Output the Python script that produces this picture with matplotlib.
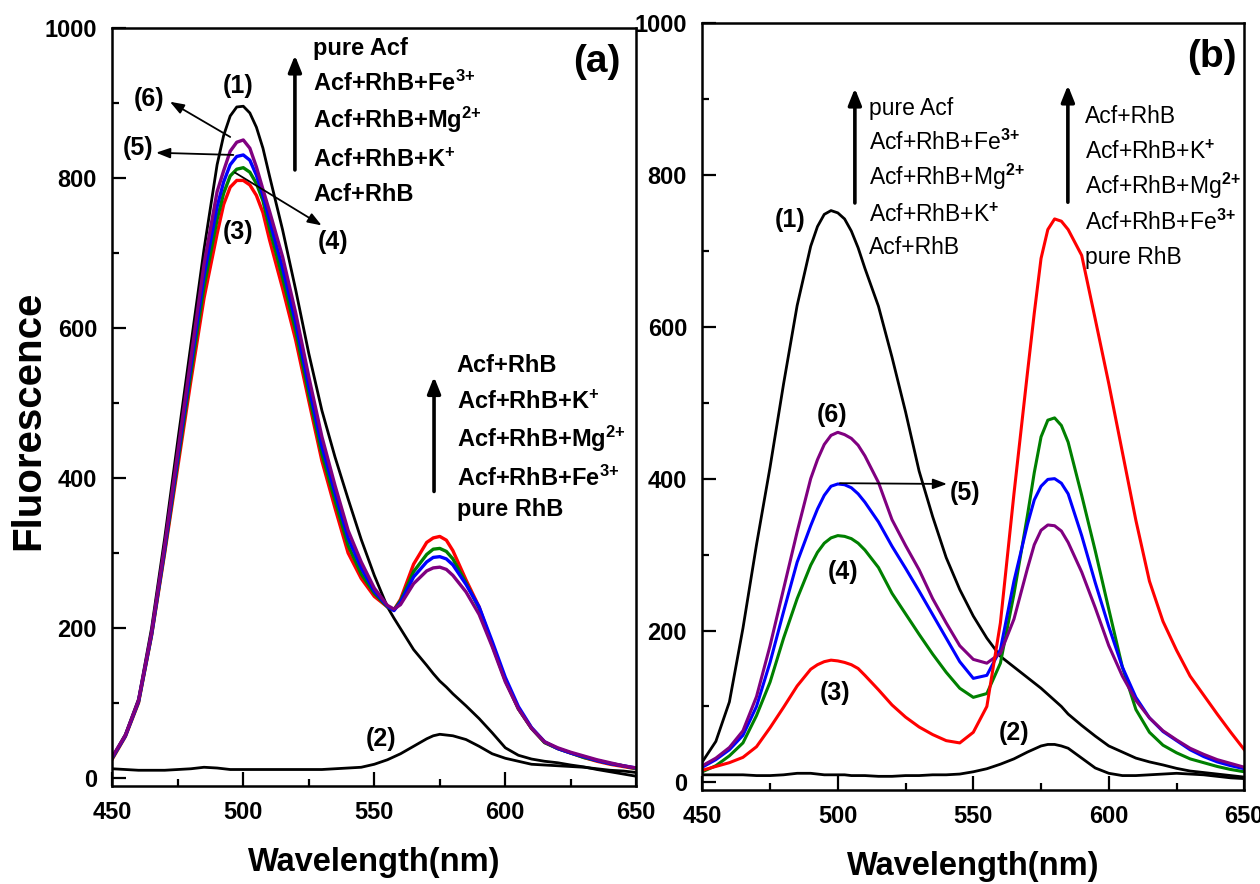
import matplotlib
matplotlib.use('Agg')
import matplotlib.pyplot as plt
from matplotlib.ticker import MultipleLocator

plt.rcParams['font.family'] = ['Liberation Sans', 'DejaVu Sans']
plt.rcParams['font.weight'] = 'bold'
plt.rcParams['mathtext.fontset'] = 'custom'
plt.rcParams['mathtext.rm'] = 'Liberation Sans'
plt.rcParams['mathtext.bf'] = 'Liberation Sans:bold'
plt.rcParams['mathtext.it'] = 'Liberation Sans:italic'

# ---------------- data: panel (a) ----------------
wl_a = [450, 455, 460, 465, 470, 475, 480, 485, 490, 492.5, 495, 497.5, 500, 502.5, 505, 507.5,
        510, 515, 520, 525, 530, 535, 540, 545, 550, 555, 557.5, 560, 565, 570, 572.5, 575, 577.5,
        580, 585, 590, 595, 600, 605, 610, 615, 620, 625, 630, 635, 640, 645, 650]
a_pure_acf = [27, 58, 105, 200, 320, 450, 578, 705, 818, 857, 883, 895, 896, 887, 868, 840,
              803, 731, 651, 566, 490, 428, 372, 318, 270, 228, 213, 199, 171, 150, 139, 129, 121,
              112, 96, 79, 60, 40, 30, 25, 22, 20, 17, 14.5, 11, 8, 5, 2]
a_pure_rhb = [12, 11, 10, 10, 10, 11, 12, 14, 13, 12, 11, 11, 11, 11, 11, 11,
              11, 11, 11, 11, 11, 12, 13, 14, 18, 24, 28, 32, 42, 52, 56, 58, 57,
              56, 51, 42, 32, 26, 22, 18, 17, 16, 15, 14, 12, 10, 9, 7]
a_acf_rhb = [25, 55, 100, 190, 300, 415, 530, 640, 726, 765, 788, 797, 797, 791, 777, 754,
             718, 653, 584, 503, 423, 360, 300, 266, 242, 228, 224, 238, 285, 314, 320, 322, 317,
             303, 264, 228, 178, 130, 92, 66, 47, 39, 33, 27, 22, 18, 15, 12]
a_k = [26, 56, 101, 191, 303, 422, 540, 655, 745, 780, 803, 812, 814, 808, 793, 770,
       733, 667, 596, 512, 432, 370, 310, 272, 246, 228, 224, 236, 275, 298, 305, 306, 302,
       292, 260, 226, 177, 130, 92, 66, 47, 39, 33, 27, 23, 19, 16, 12]
a_mg = [27, 56, 102, 192, 306, 428, 550, 670, 762, 795, 818, 829, 831, 824, 804, 777,
        744, 680, 607, 522, 442, 380, 320, 280, 249, 229, 223, 234, 268, 288, 294, 295, 292,
        284, 258, 228, 182, 134, 95, 67, 48, 39, 33, 28, 23, 19, 16, 13]
a_fe = [28, 57, 103, 194, 310, 435, 560, 685, 782, 810, 836, 848, 851, 840, 815, 785,
        756, 695, 620, 535, 455, 390, 330, 288, 253, 230, 225, 231, 259, 276, 280, 281, 278,
        270, 248, 218, 175, 128, 92, 66, 48, 40, 34, 29, 24, 20, 16, 13]

# ---------------- data: panel (b) ----------------
wl_b = [450, 455, 460, 465, 470, 475, 480, 485, 490, 492.5, 495, 497.5, 500, 502.5, 505, 507.5,
        510, 515, 520, 525, 530, 535, 540, 545, 550, 555, 560, 565, 570, 572.5, 575, 577.5,
        580, 582.5, 585, 590, 595, 600, 605, 610, 615, 620, 625, 630, 635, 640, 645, 650]
b_pure_acf = [27, 54, 106, 203, 313, 415, 525, 628, 706, 732, 748, 753, 750, 742, 726, 704,
              677, 627, 560, 488, 410, 350, 296, 254, 219, 190, 166, 152, 138, 131, 124, 116,
              108, 100, 90, 75, 61, 48, 40, 32, 27, 23, 18.5, 15, 13, 11, 9, 7]
b_pure_rhb = [10, 10, 10, 10, 9, 9, 10, 12, 12, 11, 10, 10, 10, 10, 9, 9,
              9, 8, 8, 9, 9, 10, 10, 11, 14, 18, 24, 31, 40, 44, 48, 50,
              50, 48, 45, 32, 19, 12, 9, 9, 10, 11, 12, 11, 10, 8, 6, 5]
b_acf_rhb = [16, 21, 26, 33, 47, 72, 99, 127, 149, 155, 159, 161, 160, 158, 155, 150,
             141, 122, 102, 86, 73, 63, 55, 52, 66, 100, 210, 380, 540, 618, 690, 728,
             742, 739, 728, 694, 610, 525, 435, 345, 265, 212, 174, 140, 115, 90, 66, 43]
b_k = [14, 22, 35, 52, 88, 132, 190, 242, 286, 303, 315, 322, 325, 324, 321, 315,
       306, 283, 249, 222, 195, 169, 145, 124, 112, 117, 157, 248, 352, 408, 455, 477,
       480, 470, 448, 378, 305, 228, 152, 96, 66, 49, 39, 31, 26, 21, 17, 14]
b_mg = [20, 30, 43, 62, 100, 158, 225, 290, 338, 360, 378, 390, 393, 392, 388, 380,
        369, 343, 311, 282, 252, 221, 190, 159, 137, 141, 175, 265, 340, 372, 390, 399,
        400, 394, 380, 325, 263, 205, 152, 112, 85, 67, 55, 43, 34, 27, 22, 18]
b_fe = [22, 32, 46, 68, 113, 180, 255, 330, 400, 425, 445, 457, 461, 458, 453, 444,
        430, 395, 346, 312, 280, 242, 210, 180, 162, 157, 170, 215, 282, 313, 332, 339,
        338, 331, 316, 277, 230, 180, 140, 108, 85, 68, 56, 45, 37, 30, 25, 20]

list_a_top = ['pure Acf', r'Acf+RhB+Fe$^{\mathbf{3{+}}}$', r'Acf+RhB+Mg$^{\mathbf{2{+}}}$',
              r'Acf+RhB+K$^{\mathbf{{+}}}$', 'Acf+RhB']
list_a_low = ['Acf+RhB', r'Acf+RhB+K$^{\mathbf{{+}}}$', r'Acf+RhB+Mg$^{\mathbf{2{+}}}$',
              r'Acf+RhB+Fe$^{\mathbf{3{+}}}$', 'pure RhB']
list_b_left = ['pure Acf', r'Acf+RhB+Fe$^{3{+}}$', r'Acf+RhB+Mg$^{2{+}}$', r'Acf+RhB+K$^{{+}}$',
               'Acf+RhB']
list_b_right = ['Acf+RhB', r'Acf+RhB+K$^{{+}}$', r'Acf+RhB+Mg$^{2{+}}$', r'Acf+RhB+Fe$^{3{+}}$',
                'pure RhB']

RED, GREEN, BLUE, PURPLE = '#ff0000', '#008000', '#0000ff', '#800080'

fig = plt.figure(figsize=(12.6, 8.84), dpi=100)
axA = fig.add_axes([0.08913, 0.11086, 0.41587, 0.85747])
axB = fig.add_axes([0.55738, 0.10633, 0.43016, 0.86765])


def style(ax, ylim):
    ax.set_xlim(450, 650)
    ax.set_ylim(*ylim)
    ax.xaxis.set_major_locator(MultipleLocator(50))
    ax.xaxis.set_minor_locator(MultipleLocator(25))
    ax.yaxis.set_major_locator(MultipleLocator(200))
    ax.yaxis.set_minor_locator(MultipleLocator(100))
    ax.tick_params(which='both', direction='in', top=False, right=False, width=1.6,
                   labelsize=17, pad=11)
    ax.tick_params(which='major', length=10)
    ax.tick_params(which='minor', length=5)
    for s in ax.spines.values():
        s.set_linewidth(1.8)


# panel (a)
axA.plot(wl_a, a_pure_acf, color='black', lw=2.0)
axA.plot(wl_a, a_pure_rhb, color='black', lw=2.0)
axA.plot(wl_a, a_acf_rhb, color=RED, lw=2.4)
axA.plot(wl_a, a_k, color=GREEN, lw=2.4)
axA.plot(wl_a, a_mg, color=BLUE, lw=2.4)
axA.plot(wl_a, a_fe, color=PURPLE, lw=2.4)
style(axA, (-11, 1000.4))

# panel (b)
axB.plot(wl_b, b_pure_acf, color='black', lw=2.0)
axB.plot(wl_b, b_pure_rhb, color='black', lw=2.0)
axB.plot(wl_b, b_k, color=GREEN, lw=2.2)
axB.plot(wl_b, b_mg, color=BLUE, lw=2.2)
axB.plot(wl_b, b_fe, color=PURPLE, lw=2.2)
axB.plot(wl_b, b_acf_rhb, color=RED, lw=2.2)
style(axB, (-10, 1000))

up = dict(arrowstyle='-|>,head_length=0.7,head_width=0.28', color='black', lw=2.6,
          mutation_scale=14, shrinkA=0, shrinkB=0)
thin = dict(arrowstyle='-|>,head_length=0.6,head_width=0.22', color='black', lw=1.3,
            mutation_scale=14, shrinkA=0, shrinkB=0)

# annotations (a)
axA.text(635, 955, '(a)', fontsize=28, ha='center', va='center')
axA.annotate('', xy=(519.7, 964), xytext=(519.7, 811), arrowprops=up)
for t, v in zip(list_a_top, [965, 917, 867, 815.5, 769]):
    axA.text(526.7, v, t, fontsize=17, ha='left', va='baseline')
axA.annotate('', xy=(572.8, 535), xytext=(572.8, 382), arrowprops=up)
for t, v in zip(list_a_low, [542, 492, 441, 390, 349]):
    axA.text(581.4, v, t, fontsize=17, ha='left', va='baseline')
for t, w, v in [('(1)', 498.1, 923), ('(6)', 463.9, 905), ('(5)', 459.9, 840),
                ('(3)', 498.1, 728), ('(4)', 534.1, 715), ('(2)', 552.6, 52)]:
    axA.text(w, v, t, fontsize=18, ha='center', va='center')
axA.annotate('', xy=(472, 902), xytext=(495, 855), arrowprops=thin)
axA.annotate('', xy=(466.7, 834), xytext=(496.2, 831), arrowprops=thin)
axA.annotate('', xy=(529.9, 737), xytext=(496.8, 807.5), arrowprops=thin)

# annotations (b)
axB.text(638, 955, '(b)', fontsize=28, ha='center', va='center')
axB.annotate('', xy=(506.3, 914), xytext=(506.3, 763), arrowprops=up)
for t, v in zip(list_b_left, [878.6, 832.5, 786.4, 738, 695.6]):
    axB.text(511.4, v, t, fontsize=16.5, fontweight='normal', ha='left', va='baseline')
axB.annotate('', xy=(584.9, 918), xytext=(584.9, 764), arrowprops=up)
for t, v in zip(list_b_right, [867.7, 820.7, 774.6, 727.2, 683.3]):
    axB.text(591.2, v, t, fontsize=16.5, fontweight='normal', ha='left', va='baseline')
for t, w, v in [('(1)', 482.3, 740), ('(6)', 497.9, 484), ('(5)', 546.9, 381),
                ('(4)', 501.9, 277), ('(3)', 499, 118), ('(2)', 565, 65)]:
    axB.text(w, v, t, fontsize=18, ha='center', va='center')
axB.annotate('', xy=(540.3, 393), xytext=(500.8, 394), arrowprops=thin)

# axis labels
fig.text(28 / 1260, 1 - 420 / 884, 'Fluorescence', fontsize=29, rotation=90,
         ha='center', va='center')
fig.text(374 / 1260, 1 - 862 / 884, 'Wavelength(nm)', fontsize=23.5, ha='center', va='center')
fig.text(973 / 1260, 1 - 867 / 884, 'Wavelength(nm)', fontsize=23.5, ha='center', va='center')

fig.savefig('out.png', dpi=100)
